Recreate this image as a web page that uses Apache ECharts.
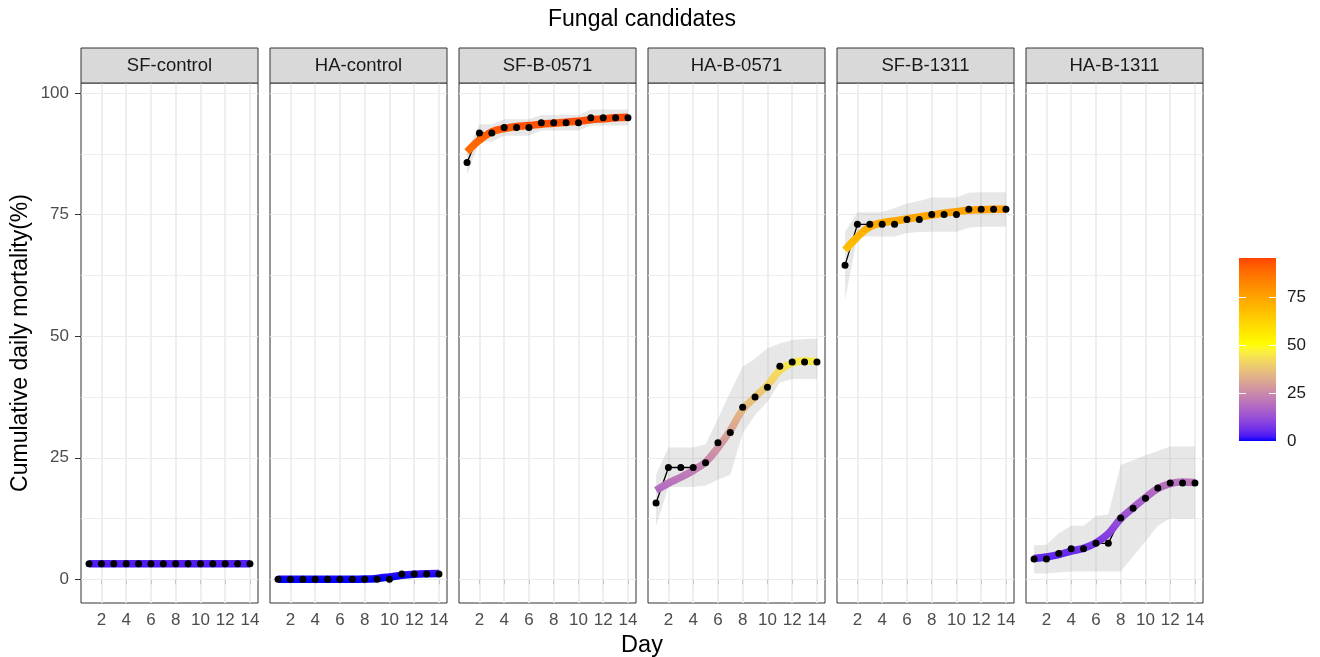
<!DOCTYPE html>
<html><head><meta charset="utf-8">
<script src="https://cdn.jsdelivr.net/npm/echarts@6/dist/echarts.min.js"></script>
<style>html,body{margin:0;padding:0;background:#fff}#c{width:1320px;height:657px}</style>
</head><body><div id="c"></div>
<script>
// ---------------- DATA ----------------
const days = [1,2,3,4,5,6,7,8,9,10,11,12,13,14];
const panelNames = ['SF-control','HA-control','SF-B-0571','HA-B-0571','SF-B-1311','HA-B-1311'];
const chartTitle = 'Fungal candidates';
const xTitle = 'Day';
const yTitle = 'Cumulative daily mortality(%)';

// observed cumulative mortality (points)
const meanSFcontrol = [3.2,3.2,3.2,3.2,3.2,3.2,3.2,3.2,3.2,3.2,3.2,3.2,3.2,3.2];
const meanHAcontrol = [0,0,0,0,0,0,0,0,0,0,1.1,1.1,1.1,1.1];
const meanSFB0571 = [85.7,91.8,91.8,92.9,92.9,92.9,93.9,93.9,93.9,93.9,94.9,94.9,94.9,94.9];
const meanHAB0571 = [15.7,23.0,23.0,23.0,24.0,28.1,30.2,35.4,37.5,39.5,43.8,44.7,44.7,44.7];
const meanSFB1311 = [64.6,73.0,73.0,73.0,73.0,74.0,74.0,75.0,75.0,75.0,76.1,76.1,76.1,76.1];
const meanHAB1311 = [4.2,4.2,5.3,6.3,6.3,7.4,7.4,12.6,14.6,16.7,18.8,19.8,19.8,19.8];

// smoothed fits (coloured line)
const fitSFcontrol = [3.2,3.2,3.2,3.2,3.2,3.2,3.2,3.2,3.2,3.2,3.2,3.2,3.2,3.2];
const fitHAcontrol = [0,0,0,0,0,0,0,0.05,0.2,0.5,0.85,1.05,1.15,1.2];
const fitSFB0571 = [87.9,90.3,92.0,92.7,93.1,93.3,93.6,93.8,94.0,94.2,94.5,94.7,94.9,95.0];
const fitHAB0571 = [18.3,19.8,21.0,22.4,24.1,27.1,30.6,34.9,37.5,39.9,43.0,44.5,44.9,44.8];
const fitSFB1311 = [67.7,70.4,72.5,73.3,73.7,74.1,74.5,74.9,75.3,75.6,75.9,76.0,76.1,76.1];
const fitHAB1311 = [4.3,4.6,5.1,5.8,6.4,7.5,9.4,12.5,14.7,16.8,18.7,19.7,20.0,19.9];

// ribbon lower / upper bounds
const lowSFcontrol = meanSFcontrol, highSFcontrol = meanSFcontrol;
const lowHAcontrol = meanHAcontrol, highHAcontrol = meanHAcontrol;
const lowSFB0571 = [83.2,90.0,90.0,91.2,91.2,91.2,92.3,92.3,92.3,92.3,93.3,93.3,93.3,93.3];
const highSFB0571 = [88.2,93.6,93.6,94.6,94.6,94.6,95.5,95.5,95.5,95.5,96.6,96.6,96.6,96.6];
const lowHAB0571 = [11.0,19.0,19.0,19.0,19.3,20.5,21.5,30.0,33.8,36.5,40.5,41.2,41.2,41.2];
const highHAB0571 = [21.5,27.1,27.1,27.1,27.8,33.0,38.5,43.7,45.4,47.5,48.5,49.2,49.4,49.5];
const lowSFB1311 = [57.5,70.5,70.5,70.5,70.5,71.2,71.4,71.5,71.5,71.5,72.3,72.5,72.5,72.5];
const highSFB1311 = [71.5,75.5,75.5,75.5,76.3,77.3,77.8,78.5,78.5,78.5,79.5,79.6,79.6,79.6];
const lowHAB1311 = [1.2,1.2,1.4,1.6,1.6,1.6,1.6,1.6,4.7,7.8,11.0,12.5,12.5,12.5];
const highHAB1311 = [7.0,7.1,9.5,11.0,11.0,13.0,13.4,23.5,24.5,25.5,26.4,27.3,27.3,27.3];

const yTicks = [0,25,50,75,100];
const yMinorTicks = [12.5,37.5,62.5,87.5];
const xTicks = [2,4,6,8,10,12,14];
const legendTicks = [0,25,50,75];
const colourLimits = [0, 95.5];
const colourStopValues = [0, 50, 95.5];
const colourStopColours = ['#0000ff','#ffff00','#ff4500'];

const means = [meanSFcontrol,meanHAcontrol,meanSFB0571,meanHAB0571,meanSFB1311,meanHAB1311];
const fits = [fitSFcontrol,fitHAcontrol,fitSFB0571,fitHAB0571,fitSFB1311,fitHAB1311];
const lows = [lowSFcontrol,lowHAcontrol,lowSFB0571,lowHAB0571,lowSFB1311,lowHAB1311];
const highs = [highSFcontrol,highHAcontrol,highSFB0571,highHAB0571,highSFB1311,highHAB1311];

// ---------------- COLOUR (Lab interpolation) ----------------
function hexToRgb(h){return [parseInt(h.slice(1,3),16),parseInt(h.slice(3,5),16),parseInt(h.slice(5,7),16)];}
function toLin(c){c/=255;return c<=0.04045?c/12.92:Math.pow((c+0.055)/1.055,2.4);}
function fromLin(c){const v=c<=0.0031308?12.92*c:1.055*Math.pow(Math.max(c,0),1/2.4)-0.055;return Math.round(Math.max(0,Math.min(1,v))*255);}
const Xn=0.95047,Yn=1,Zn=1.08883;
function ff(t){return t>0.008856?Math.cbrt(t):7.787*t+16/116;}
function finv(t){return t>0.206893?t*t*t:(t-16/116)/7.787;}
function rgbToLab(rgb){const [r,g,b]=rgb.map(toLin);
  const X=0.4124564*r+0.3575761*g+0.1804375*b,Y=0.2126729*r+0.7151522*g+0.0721750*b,Z=0.0193339*r+0.1191920*g+0.9503041*b;
  const fx=ff(X/Xn),fy=ff(Y/Yn),fz=ff(Z/Zn);return [116*fy-16,500*(fx-fy),200*(fy-fz)];}
function labToHex(lab){const fy=(lab[0]+16)/116,fx=fy+lab[1]/500,fz=fy-lab[2]/200;
  const X=Xn*finv(fx),Y=Yn*finv(fy),Z=Zn*finv(fz);
  const r=3.2404542*X-1.5371385*Y-0.4985314*Z,g=-0.9692660*X+1.8760108*Y+0.0415560*Z,b=0.0556434*X-0.2040259*Y+1.0572252*Z;
  return '#'+[r,g,b].map(c=>fromLin(c).toString(16).padStart(2,'0')).join('');}
const stopLabs = colourStopColours.map(h=>rgbToLab(hexToRgb(h)));
function colourAt(v){
  let k=0; while(k<colourStopValues.length-2 && v>colourStopValues[k+1]) k++;
  const t=Math.max(0,Math.min(1,(v-colourStopValues[k])/(colourStopValues[k+1]-colourStopValues[k])));
  const a=stopLabs[k],b=stopLabs[k+1];
  return labToHex([a[0]+(b[0]-a[0])*t,a[1]+(b[1]-a[1])*t,a[2]+(b[2]-a[2])*t]);
}
const NSTOP=48;
const rampColours=[], gradStops=[];
for(let i=0;i<NSTOP;i++){const v=colourLimits[0]+(colourLimits[1]-colourLimits[0])*i/(NSTOP-1);const c=colourAt(v);rampColours.push(c);gradStops.push({offset:i/(NSTOP-1),color:c});}

// ---------------- LAYOUT ----------------
const FONT='"Liberation Sans", Arial, sans-serif';
const P_LEFT0=81, P_STEP=189, P_W=177, P_TOP=83, P_H=520, STRIP_TOP=48;
const X_MIN=0.35, X_MAX=14.65, Y_MIN=-4.86, Y_MAX=102.06;

const grids=[], xAxes=[], yAxes=[], series=[], graphics=[], fitIdx=[];
panelNames.forEach((name,i)=>{
  const left=P_LEFT0+i*P_STEP;
  grids.push({left:left,top:P_TOP,width:P_W,height:P_H,show:true,borderColor:'#333',borderWidth:1,backgroundColor:'#fff',containLabel:false});
  xAxes.push({type:'value',gridIndex:i,min:X_MIN,max:X_MAX,
    axisLine:{show:false},splitLine:{show:false},
    axisTick:{show:true,length:5,lineStyle:{color:'#333',width:1},customValues:xTicks},
    axisLabel:{show:true,customValues:xTicks,fontSize:17,color:'#4d4d4d',fontFamily:FONT,margin:9}});
  yAxes.push({type:'value',gridIndex:i,min:Y_MIN,max:Y_MAX,
    axisLine:{show:false},splitLine:{show:false},
    axisTick:{show:i===0,length:6,lineStyle:{color:'#333',width:1},customValues:yTicks},
    axisLabel:{show:i===0,customValues:yTicks,fontSize:17,color:'#4d4d4d',fontFamily:FONT,margin:12}});
  const pts=(arr)=>days.map((d,k)=>[d,arr[k]]);
  // gridlines holder
  series.push({type:'line',xAxisIndex:i,yAxisIndex:i,data:pts(means[i]),showSymbol:false,silent:true,z:1,
    lineStyle:{opacity:0},emphasis:{disabled:true},
    markLine:{z:1,silent:true,symbol:['none','none'],animation:false,label:{show:false},emphasis:{disabled:true},
      lineStyle:{color:'#ebebeb',width:1.2,type:'solid'},
      data:[...yMinorTicks.map(v=>({yAxis:v,lineStyle:{width:0.9}})),...yTicks.map(v=>({yAxis:v})),...xTicks.map(v=>({xAxis:v,lineStyle:{width:1.6}}))]}});
  // ribbon
  const lo=lows[i], hi=highs[i];
  series.push({type:'custom',xAxisIndex:i,yAxisIndex:i,data:[[days[0],lo[0]]],silent:true,z:2,clip:true,
    renderItem:function(params,api){
      const up=days.map((d,k)=>api.coord([d,hi[k]]));
      const dn=days.map((d,k)=>api.coord([d,lo[k]])).reverse();
      return {type:'polygon',shape:{points:up.concat(dn)},style:{fill:'rgba(153,153,153,0.24)',stroke:null}};
    }});
  // thin black line through observations
  series.push({type:'line',xAxisIndex:i,yAxisIndex:i,data:pts(means[i]),showSymbol:false,silent:true,z:3,
    lineStyle:{color:'#000',width:1.3},itemStyle:{color:'#000'}});
  // smoothed coloured line
  fitIdx.push(series.length);
  series.push({type:'line',xAxisIndex:i,yAxisIndex:i,data:pts(fits[i]),showSymbol:false,silent:true,z:6,smooth:0.4,
    lineStyle:{width:7.5,cap:'butt'}});
  // points
  series.push({type:'scatter',xAxisIndex:i,yAxisIndex:i,data:pts(means[i]),symbolSize:7,silent:true,z:8,
    itemStyle:{color:'#000',opacity:1}});
  // strip
  graphics.push({type:'rect',shape:{x:left,y:STRIP_TOP,width:P_W,height:P_TOP-STRIP_TOP},style:{fill:'#d9d9d9',stroke:'#333',lineWidth:1},z:10});
  graphics.push({type:'text',x:left+P_W/2,y:(STRIP_TOP+P_TOP)/2,z:11,
    style:{text:name,fontSize:18.5,fontFamily:FONT,fill:'#1a1a1a',textAlign:'center',textVerticalAlign:'middle',align:'center',verticalAlign:'middle'}});
});

// colour bar legend
const CB_LEFT=1239, CB_TOP=258, CB_W=37, CB_H=183;
grids.push({left:CB_LEFT,top:CB_TOP,width:CB_W,height:CB_H,show:false});
xAxes.push({type:'category',gridIndex:6,data:['c'],show:false});
yAxes.push({type:'value',gridIndex:6,position:'right',min:colourLimits[0],max:colourLimits[1],z:10,
  axisLine:{show:false},splitLine:{show:false},
  axisTick:{show:true,inside:true,length:7,lineStyle:{color:'#fff',width:1},customValues:legendTicks},
  axisLabel:{show:true,customValues:legendTicks,fontSize:17,color:'#1a1a1a',fontFamily:FONT,margin:11}});
yAxes.push({type:'value',gridIndex:6,position:'left',min:colourLimits[0],max:colourLimits[1],z:10,
  axisLine:{show:false},splitLine:{show:false},axisLabel:{show:false},
  axisTick:{show:true,inside:true,length:7,lineStyle:{color:'#fff',width:1},customValues:legendTicks}});
series.push({type:'bar',xAxisIndex:6,yAxisIndex:6,data:[colourLimits[1]],barWidth:'100%',silent:true,z:2,
  itemStyle:{color:new echarts.graphic.LinearGradient(0,1,0,0,gradStops)}});

// titles
graphics.push({type:'text',x:642,y:20,style:{text:chartTitle,fontSize:23,fontFamily:FONT,fill:'#000',textAlign:'center',textVerticalAlign:'middle',align:'center',verticalAlign:'middle'}});
graphics.push({type:'text',x:642,y:646,style:{text:xTitle,fontSize:23.5,fontFamily:FONT,fill:'#000',textAlign:'center',textVerticalAlign:'middle',align:'center',verticalAlign:'middle'}});
graphics.push({type:'text',x:21,y:343,rotation:Math.PI/2,style:{text:yTitle,fontSize:23,fontFamily:FONT,fill:'#000',textAlign:'center',textVerticalAlign:'middle',align:'center',verticalAlign:'middle'}});

const chart=echarts.init(document.getElementById('c'),null,{renderer:'canvas'});
chart.setOption({
  animation:false,
  backgroundColor:'#fff',
  grid:grids, xAxis:xAxes, yAxis:yAxes, series:series, graphic:graphics,
  visualMap:{type:'continuous',show:false,min:colourLimits[0],max:colourLimits[1],dimension:1,seriesIndex:fitIdx,inRange:{color:rampColours}}
});
</script></body></html>
